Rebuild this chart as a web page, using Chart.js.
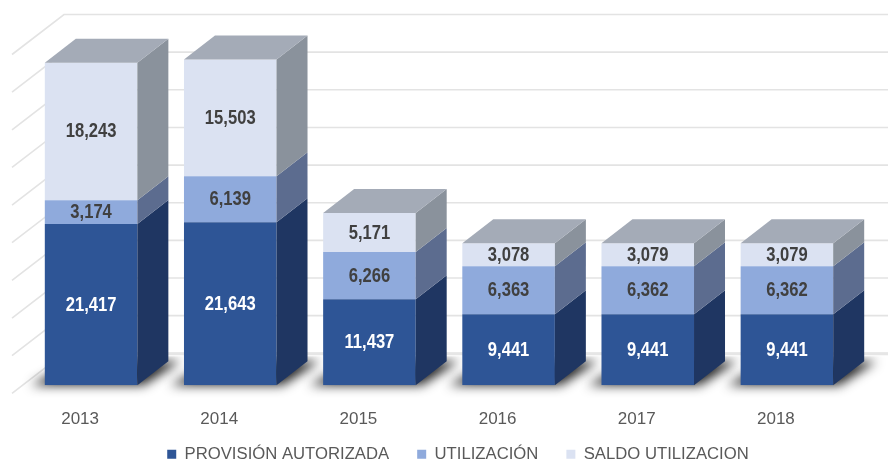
<!DOCTYPE html>
<html>
<head>
<meta charset="utf-8">
<style>
html,body{margin:0;padding:0;background:#fff}
#wrap{position:relative;width:888px;height:462px}
</style>
<script src="https://cdn.jsdelivr.net/npm/chart.js@4"></script>
</head>
<body>
<div id="wrap"><canvas id="c"></canvas></div>
<script>
const years = ["2013","2014","2015","2016","2017","2018"];
const provision = [21417,21643,11437,9441,9441,9441];
const utilizacion = [3174,6139,6266,6363,6362,6362];
const saldo = [18243,15503,5171,3078,3079,3079];

const frontColors = ["#2E5596","#8FAADC","#DBE2F2"];
const sideColors = ["#1F3662","#5C6C8F","#8A929C"];
const labelColors = ["#ffffff","#404040","#404040"];
const topColor = "#A4ABB7";

// depth of the fake 3d, in px
const barDx = 31, barDy = 24;
const wallDx = 41.5, wallDy = 32;
const frontDx = 10.5, frontDy = 8;

function poly(ctx, pts, fill){
    ctx.beginPath();
    ctx.moveTo(pts[0][0], pts[0][1]);
    for(let p of pts) ctx.lineTo(p[0], p[1]);
    ctx.closePath();
    ctx.fillStyle = fill;
    ctx.fill();
}

const walls = {
    id: "walls",
    afterLayout(chart){
        // legend sits off centre in the original
        let l = chart.legend;
        let h = l.bottom-l.top;
        l.left += 19; l.right += 19;
        l.top = 418; l.bottom = 418+h;
    },
    beforeDatasetsDraw(chart){
        let ctx = chart.ctx, y = chart.scales.y;
        let left = chart.scales.x.left;
        ctx.save();
        ctx.strokeStyle = "#e3e3e3";
        ctx.lineWidth = 1.6;
        for(let t of y.ticks){
            let py = y.getPixelForValue(t.value);
            ctx.beginPath();
            ctx.moveTo(left-frontDx+1, py+frontDy);
            ctx.lineTo(left+wallDx+1, py-wallDy);
            ctx.lineTo(888, py-wallDy);
            ctx.stroke();
        }
        // floor shadow under each bar, shape is drawn off canvas so only the blur shows
        let y0 = y.getPixelForValue(0);
        ctx.fillStyle = "#e6e6e6";
        ctx.fillRect(left+wallDx, y0-wallDy-1, 888, 3);
        ctx.beginPath();
        ctx.rect(0, y0-wallDy+3, 888, 60);
        ctx.clip();
        for(let b of chart.getDatasetMeta(0).data){
            let x0 = b.x-b.width/2-2000, x1 = b.x+b.width/2-2000, by = b.base;
            ctx.save();
            ctx.shadowColor = "rgba(0,0,0,0.85)";
            ctx.shadowBlur = 11;
            ctx.shadowOffsetX = 2000;
            poly(ctx, [[x0-14,by],[x1+6,by],[x1+barDx+12,by-barDy],[x0+barDx,by-barDy]], "#000");
            ctx.restore();
        }
        ctx.restore();
    },
    afterDatasetsDraw(chart){
        let ctx = chart.ctx;
        chart.data.datasets.forEach((ds,i)=>{
            for(let b of chart.getDatasetMeta(i).data){
                let x1 = b.x+b.width/2, x0 = b.x-b.width/2;
                poly(ctx, [[x1,b.y],[x1+barDx,b.y-barDy],[x1+barDx,b.base-barDy],[x1,b.base]], sideColors[i]);
                if(i===2) poly(ctx, [[x0,b.y],[x0+barDx,b.y-barDy],[x1+barDx,b.y-barDy],[x1,b.y]], topColor);
            }
        });
    },
    afterDraw(chart){
        let ctx = chart.ctx;
        ctx.save();
        ctx.textAlign = "center";
        ctx.textBaseline = "middle";
        ctx.font = "bold 20px 'Liberation Sans'";
        chart.data.datasets.forEach((ds,i)=>{
            chart.getDatasetMeta(i).data.forEach((b,j)=>{
                ctx.save();
                ctx.translate(b.x, (b.y+b.base)/2+0.5);
                ctx.scale(0.83,1);
                ctx.fillStyle = labelColors[i];
                ctx.fillText(ds.data[j].toLocaleString("en-US"), 0, 0);
                ctx.restore();
            });
        });
        ctx.restore();
    }
};

new Chart(document.getElementById("c"), {
    type: "bar",
    data: {
        labels: years,
        datasets: [
            {label:"PROVISIÓN AUTORIZADA", data:provision, backgroundColor:frontColors[0]},
            {label:"UTILIZACIÓN", data:utilizacion, backgroundColor:frontColors[1]},
            {label:"SALDO UTILIZACION", data:saldo, backgroundColor:frontColors[2]}
        ]
    },
    options: {
        responsive: true,
        maintainAspectRatio: false,
        animation: false,
        layout: {padding:{left:21.5, right:31.5, top:46.5, bottom:-22}},
        datasets: {bar:{categoryPercentage:1, barPercentage:0.665}},
        scales: {
            x: {
                stacked: true,
                grid: {display:false},
                border: {display:false},
                afterFit(s){ s.height = 44; s.paddingLeft = 0; s.paddingRight = 0; },
                ticks: {color:"#595959", font:{family:"Liberation Sans", size:17}, labelOffset:-11, padding:16, maxRotation:0}
            },
            y: {
                stacked: true,
                min: 0,
                max: 45000,
                grid: {display:false, drawTicks:false},
                border: {display:false},
                afterFit(s){ s.width = 0; },
                ticks: {display:false, stepSize:5000}
            }
        },
        plugins: {
            tooltip: {enabled:false},
            legend: {
                position: "bottom",
                labels: {
                    color:"#595959",
                    font:{family:"Liberation Sans", size:16.7},
                    boxWidth:9,
                    boxHeight:9,
                    padding:28
                }
            }
        }
    },
    plugins: [walls]
});
</script>
</body>
</html>
